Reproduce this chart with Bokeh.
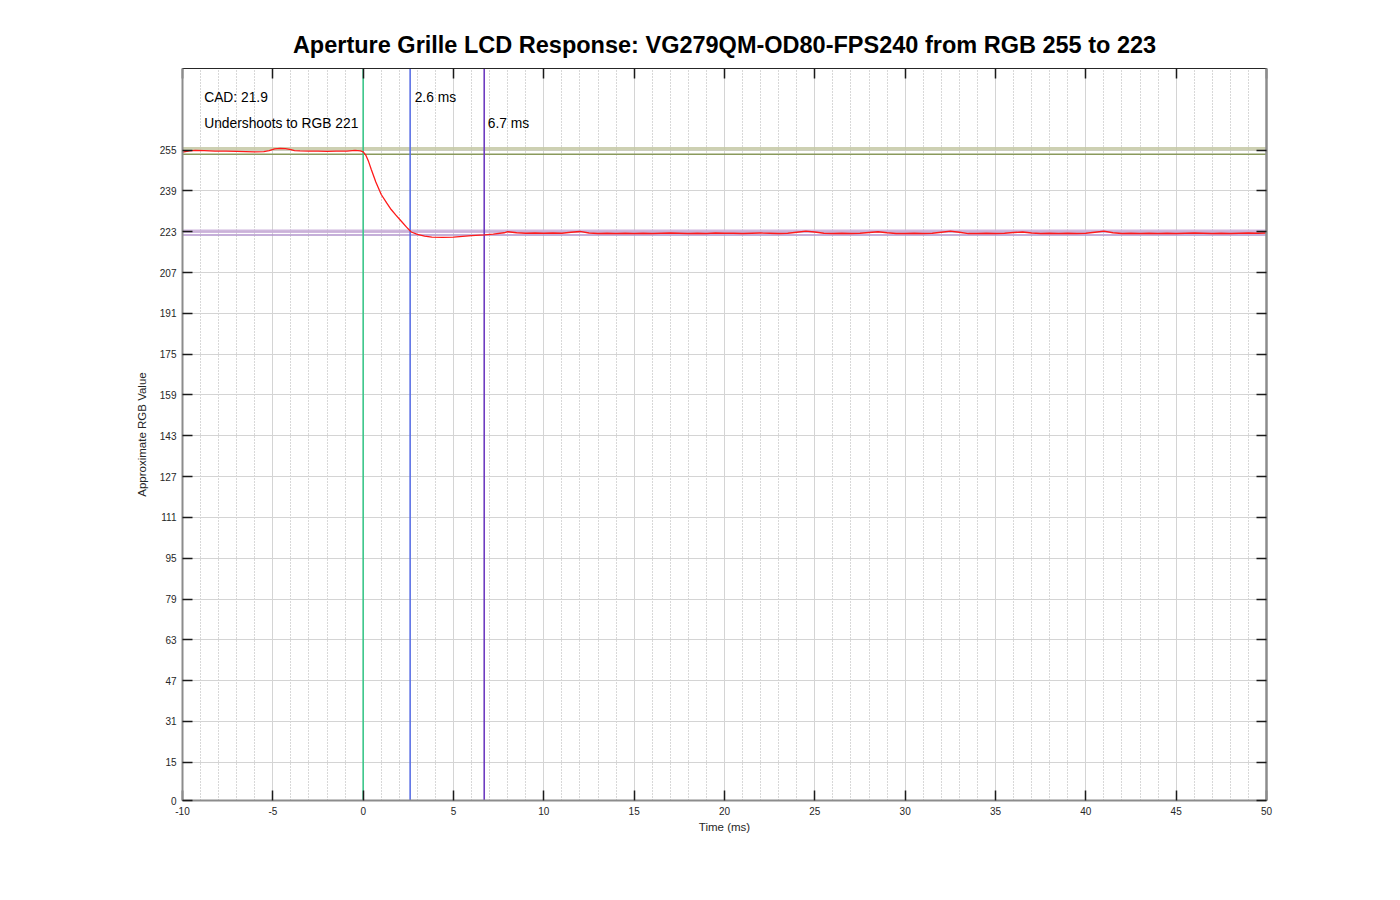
from bokeh.plotting import figure
from bokeh.models import FixedTicker, LinearAxis, Range1d, Span, Label
from bokeh.embed import file_html
from bokeh.resources import INLINE

# ---------------- data ----------------
title_text = "Aperture Grille LCD Response: VG279QM-OD80-FPS240 from RGB 255 to 223"
x_ticks = list(range(-10, 51, 5))
x_minor = list(range(-10, 51, 1))
y_ticks = [0, 15, 31, 47, 63, 79, 95, 111, 127, 143, 159, 175, 191, 207, 223, 239, 255]

time_ms = [-10, -9.6, -9.3, -8.8, -8.2, -7.6, -7.0, -6.5, -6.0, -5.5, -5.2, -4.9, -4.6, -4.3, -4.0,
           -3.8, -3.5, -3.0, -2.5, -2.0, -1.5, -0.9, -0.45, -0.15, 0.0, 0.15, 0.3, 0.45, 0.7, 1.0,
           1.3, 1.55, 1.8, 2.1, 2.4, 2.66, 3.0, 3.4, 3.8, 4.4, 5.0, 5.5, 6.0, 6.7, 7.2, 7.8,
           8.0, 8.5, 9.0, 9.5, 10, 10.5, 11, 11.5, 12, 12.5, 13, 13.5, 14, 14.5, 15, 15.5, 16, 16.5,
           17, 17.5, 18, 18.5, 19, 19.5, 20, 20.5, 21, 21.5, 22, 22.5, 23, 23.5, 24, 24.5, 25, 25.5,
           26, 26.5, 27, 27.5, 28, 28.5, 29, 29.5, 30, 30.5, 31, 31.5, 32, 32.5, 33, 33.5, 34, 34.5,
           35, 35.5, 36, 36.5, 37, 37.5, 38, 38.5, 39, 39.5, 40, 40.5, 41, 41.5, 42, 42.5, 43, 43.5,
           44, 44.5, 45, 45.5, 46, 46.5, 47, 47.5, 48, 48.5, 49, 49.5, 50]
rgb_value = [254.2, 254.7, 254.9, 254.8, 254.6, 254.6, 254.5, 254.4, 254.3, 254.4, 254.8, 255.5, 255.7, 255.6, 255.2,
             254.8, 254.7, 254.6, 254.6, 254.5, 254.6, 254.6, 254.9, 254.7, 254.3, 253.0, 250.5, 247.4, 242.5, 237.6,
             234.3, 231.7, 229.6, 227.2, 224.8, 222.9, 222.0, 221.3, 220.9, 220.8, 220.9, 221.2, 221.5, 221.8, 222.1, 222.6,
             223.0, 222.6, 222.4, 222.5, 222.4, 222.5, 222.4, 222.8, 223.1, 222.5, 222.3, 222.4, 222.3, 222.4, 222.3, 222.4, 222.3, 222.4,
             222.5, 222.4, 222.3, 222.4, 222.3, 222.5, 222.4, 222.4, 222.3, 222.4, 222.5, 222.4, 222.3, 222.4, 222.8, 223.2, 222.9, 222.4,
             222.3, 222.4, 222.3, 222.4, 222.7, 223.0, 222.6, 222.3, 222.3, 222.4, 222.3, 222.4, 222.8, 223.2, 222.8, 222.3, 222.3, 222.4,
             222.3, 222.4, 222.7, 222.9, 222.5, 222.3, 222.4, 222.3, 222.4, 222.3, 222.4, 222.8, 223.2, 222.6, 222.3, 222.4, 222.3, 222.4,
             222.3, 222.4, 222.3, 222.4, 222.5, 222.4, 222.3, 222.4, 222.3, 222.4, 222.5, 222.4, 222.5]

# vertical markers: start, response end, settle end
marker_times = [0.0, 2.6, 6.7]
marker_colors = ["#3cc68a", "#5a70e6", "#6e3cc0"]
# horizontal tolerance levels
band_levels = [255.5, 223.2]
band_colors = ["#c4c8a4", "#c8acd8"]
line_levels = [253.4, 221.7]
line_colors = ["#8a9a5c", "#b294cc"]

labels_text = ["CAD: 21.9", "Undershoots to RGB 221", "2.6 ms", "6.7 ms"]
labels_x = [-8.8, -8.8, 2.85, 6.9]
labels_y = [275.5, 265.6, 275.8, 265.6]

FONT = "Liberation Sans"

p = figure(width=1390, height=890, x_range=Range1d(-10, 50), y_range=Range1d(0, 287),
           output_backend="svg", toolbar_location=None,
           min_border_left=182, min_border_right=124, min_border_top=68, min_border_bottom=90,
           title=title_text)
p.outline_line_color = None
p.title.text_font = FONT
p.title.text_font_size = "23.5px"
p.title.text_font_style = "bold"
p.title.align = "center"
p.title.text_color = "black"
p.title.standoff = 21

bottom = p.below[0]
left = p.left[0]

xt = FixedTicker(ticks=x_ticks, minor_ticks=x_minor)
yt = FixedTicker(ticks=y_ticks, minor_ticks=[])

bottom.ticker = xt
left.ticker = yt
p.xgrid.ticker = xt
p.ygrid.ticker = yt
p.xgrid.grid_line_color = "#d4d4d4"
p.ygrid.grid_line_color = "#d4d4d4"
p.xgrid.minor_grid_line_color = "#b0b0b0"
p.xgrid.minor_grid_line_dash = "1 2"

bottom.axis_label = "Time (ms)"
left.axis_label = "Approximate RGB Value"
bottom.major_label_overrides = {t: str(t) for t in x_ticks}

top = LinearAxis(ticker=xt)
right = LinearAxis(ticker=yt)
top.major_label_overrides = {t: "" for t in x_ticks}
right.major_label_overrides = {t: "" for t in y_ticks}
p.add_layout(top, "above")
p.add_layout(right, "right")

for ax in [bottom, left, top, right]:
    ax.major_tick_in = 10
    ax.major_tick_out = 0
    ax.minor_tick_in = 0
    ax.minor_tick_out = 0
    ax.minor_tick_line_color = None
    ax.major_tick_line_color = "#1a1a1a"
    ax.major_tick_line_width = 1.5
    ax.major_label_text_font = FONT
    ax.major_label_text_font_size = "10px"
    ax.major_label_text_color = "#262626"
    ax.axis_label_text_font = FONT
    ax.axis_label_text_font_size = "11.5px"
    ax.axis_label_text_font_style = "normal"
    ax.axis_label_text_color = "#262626"
    ax.axis_line_color = "#8c8c8c"
    ax.axis_line_width = 2

bottom.major_label_standoff = 6
bottom.axis_label_standoff = 3
left.major_label_standoff = 6
left.axis_label_standoff = 9
top.major_label_standoff = 0
right.major_label_standoff = 0
top.axis_line_color = "#262626"
top.axis_line_width = 1.2
right.axis_line_width = 2.5

for lvl, c in zip(band_levels, band_colors):
    p.add_layout(Span(location=lvl, dimension="width", line_color=c, line_width=3.5,
                      line_alpha=0.85, level="underlay"))
for lvl, c in zip(line_levels, line_colors):
    p.add_layout(Span(location=lvl, dimension="width", line_color=c, line_width=1.5, level="underlay"))
for t, c in zip(marker_times, marker_colors):
    p.add_layout(Span(location=t, dimension="height", line_color=c, line_width=1.6, level="underlay"))

p.line(time_ms, rgb_value, line_color="#ff1a1a", line_width=1.3)

for t, xx, yy in zip(labels_text, labels_x, labels_y):
    p.add_layout(Label(x=xx, y=yy, text=t, text_font=FONT, text_font_size="13.8px",
                       text_color="black", text_baseline="middle", text_align="left"))

open("out.html", "w").write(file_html(p, INLINE))
